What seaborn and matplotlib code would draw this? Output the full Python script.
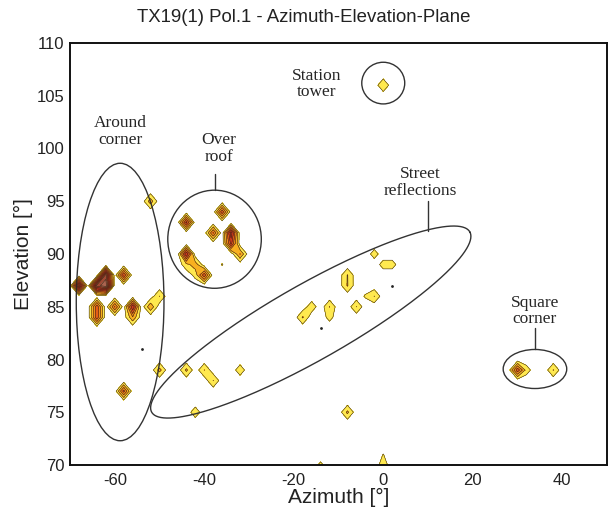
import numpy as np
import pandas as pd
import seaborn as sns
import matplotlib
matplotlib.use("Agg")
import matplotlib.pyplot as plt
from matplotlib.patches import Ellipse
from matplotlib.colors import ListedColormap, BoundaryNorm

# --- measured power peaks on the (azimuth, elevation) grid ---------------
# azimuth [deg], elevation [deg], level above the lowest contour
peak_az = [-68, -64, -62, -62, -58, -64, -64, -60, -56, -56, -52, -50, -52, -50, -58,
           -44, -36, -38, -34, -34, -32, -44, -44, -42, -42, -40, -36,
           -2, 0, 2, -8, -8, -2, -4, -6, -12, -12, -18, -16,
           -50, -44, -40, -38, -32, -42, -8, -14, 0, 0, 0,
           30, 32, 38]
peak_el = [87, 87, 87, 88, 88, 85, 84, 85, 85, 84, 85, 86, 95, 79, 77,
           93, 94, 92, 92, 91, 90, 90, 89, 89, 88, 88, 89,
           90, 89, 89, 88, 87, 86, 86, 85, 85, 84, 84, 85,
           79, 79, 79, 78, 79, 75, 75, 70, 70, 71, 106,
           79, 79, 79]
peak_val = [11.0, 12.0, 14.0, 12.0, 6.5, 6.0, 6.0, 5.0, 8.0, 3.0, 3.0, 1.65, 2.5, 2.2, 5.5,
            7.0, 6.0, 5.0, 9.0, 7.0, 3.3, 8.0, 1.0, 2.5, 0.5, 6.0, 0.1,
            0.75, 0.7, 0.7, 1.7, 1.75, 1.65, 0.2, 1.65, 1.65, 0.6, 1.8, 1.0,
            2.2, 2.0, 1.65, 1.65, 1.0, 1.0, 2.0, 0.43, 0.9, 0.05, 1.5,
            6.0, 0.8, 1.7]

# isolated weak returns shown as dots
dot_az = [-54, -14, 2]
dot_el = [81, 83, 87]

# contour levels and band colours (weak -> strong)
levels = [0.0, 1.6, 3.2, 4.8, 6.4, 8.0, 9.6, 11.2, 12.8, 14.4, 16.0]
band_colors = ["#FFE94F", "#F8B020", "#F08A18", "#E45E18", "#D43A1C",
               "#BE2A1E", "#A8321E", "#A04A34", "#AA6450", "#B47A66"]

grid_az = np.arange(-70, 52, 2)
grid_el = np.arange(68, 112, 1)
floor_value = -1.0

peaks = pd.DataFrame({"az": peak_az, "el": peak_el, "val": peak_val})
Z = np.full((len(grid_el), len(grid_az)), floor_value)
for _, r in peaks.iterrows():
    i = int(np.argmin(np.abs(grid_el - r.el)))
    j = int(np.argmin(np.abs(grid_az - r.az)))
    Z[i, j] = r.val

sns.set_style("white")
plt.rcParams["font.family"] = ["Liberation Sans", "DejaVu Sans"]
plt.rcParams["axes.unicode_minus"] = False

fig = plt.figure(figsize=(6.08, 5.14), dpi=100)
ax = fig.add_axes([70 / 608, 49 / 514, 537 / 608, 422 / 514])

cmap = ListedColormap(band_colors)
norm = BoundaryNorm(levels, cmap.N)
ax.contourf(grid_az, grid_el, Z, levels=levels, cmap=cmap, norm=norm, extend="max")
ax.contour(grid_az, grid_el, Z, levels=levels, colors="#3a2614", linewidths=0.4)

dots = pd.DataFrame({"Azimuth": dot_az, "Elevation": dot_el})
sns.scatterplot(data=dots, x="Azimuth", y="Elevation", ax=ax, color="#222222",
                s=4, linewidth=0, legend=False)

# grouping ellipses
ell_kw = dict(fill=False, edgecolor="#333333", linewidth=1.0)
ax.add_patch(Ellipse((-58.8, 85.45), 19.6, 26.3, **ell_kw))
ax.add_patch(Ellipse((-37.7, 91.4), 20.9, 9.3, **ell_kw))
ax.add_patch(Ellipse((0.0, 106.2), 9.6, 3.95, **ell_kw))
ax.add_patch(Ellipse((33.9, 79.1), 14.2, 3.7, **ell_kw))

# tilted ellipse around the street reflections (defined in screen-like units)
px_per_az, px_per_el = 4.5, 10.55
t = np.linspace(0, 2 * np.pi, 400)
a_px, b_px, theta = 183.6, 38.0, np.deg2rad(29.4)
ex = -16.2 + (a_px * np.cos(t) * np.cos(theta) - b_px * np.sin(t) * np.sin(theta)) / px_per_az
ey = 83.55 + (a_px * np.cos(t) * np.sin(theta) + b_px * np.sin(t) * np.cos(theta)) / px_per_el
ax.plot(ex, ey, color="#333333", linewidth=1.0)

# labels of the groups
lab_kw = dict(family=["Liberation Serif", "DejaVu Serif"], fontsize=12.5,
              ha="center", va="center", linespacing=1.05)
ax.text(-58.8, 101.6, "Around\ncorner", **lab_kw)
ax.text(-36.8, 100.0, "Over\nroof", **lab_kw)
ax.text(-14.8, 106.1, "Station\ntower", **lab_kw)
ax.text(8.3, 96.8, "Street\nreflections", **lab_kw)
ax.text(33.9, 84.6, "Square\ncorner", **lab_kw)
line_kw = dict(color="#333333", linewidth=1.0)
ax.plot([-37.5, -37.5], [97.6, 96.05], **line_kw)
ax.plot([10.1, 10.1], [95.0, 92.2], **line_kw)
ax.plot([33.9, 33.9], [83.0, 80.95], **line_kw)

ax.set_xlim(-70, 50)
ax.set_ylim(70, 110)
ax.set_xticks([-60, -40, -20, 0, 20, 40])
ax.set_yticks([70, 75, 80, 85, 90, 95, 100, 105, 110])
ax.tick_params(axis="both", length=0, labelsize=12, colors="#222222")
ax.tick_params(axis="x", pad=6)
ax.tick_params(axis="y", pad=4)
ax.set_xlabel("Azimuth [°]", fontsize=15, labelpad=0, color="#222222")
ax.set_ylabel("Elevation [°]", fontsize=15, labelpad=3, color="#222222")
fig.text(0.5, 1 - 18 / 514, "TX19(1) Pol.1 - Azimuth-Elevation-Plane", fontsize=13.4,
         ha="center", va="center", color="#222222")
for s in ax.spines.values():
    s.set_visible(True)
    s.set_color("#111111")
    s.set_linewidth(1.4)

fig.savefig("out.png", dpi=100)
